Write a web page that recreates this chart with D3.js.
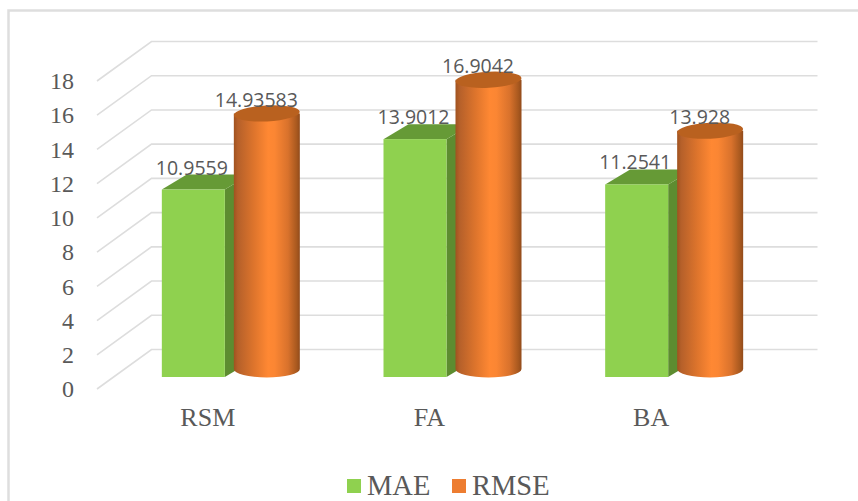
<!DOCTYPE html>
<html>
<head>
<meta charset="utf-8">
<script src="https://cdn.jsdelivr.net/npm/d3@7"></script>
<style>
  html, body { margin: 0; padding: 0; background: #fff; overflow: hidden; }
</style>
</head>
<body>
<div id="chart"></div>
<script>
var categories = ["RSM", "FA", "BA"];
var seriesNames = ["MAE", "RMSE"];
var maeValues = [10.9559, 13.9012, 11.2541];
var rmseValues = [14.93583, 16.9042, 13.928];
var maeLabels = ["10.9559", "13.9012", "11.2541"];
var rmseLabels = ["14.93583", "16.9042", "13.928"];
var yTicks = [0, 2, 4, 6, 8, 10, 12, 14, 16, 18];

var width = 858, height = 501;
var serif = "'Liberation Serif', serif";
var sans = "'Open Sans', sans-serif";
var textColor = "#595959";

// depth of the 3d box: how far the back wall sits from the front floor edge
var depthX = 54.5, depthY = 39.5;
var floorFront = 389, barFloor = 377, cylFloor = 369;
var barDx = 25, barDy = 15;
var barWidth = 63, cylRx = 33, cylRy = 8.5, capRy = 8;

var svg = d3.select("#chart")
    .append("svg")
        .attr("width", width)
        .attr("height", height);

var defs = svg.append("defs");
var cylGrad = defs.append("linearGradient").attr("id", "cylGrad");
[[0, "#a0521f"], [0.06, "#b5602a"], [0.3, "#dd742c"], [0.52, "#ff8833"], [0.62, "#fb8633"], [0.82, "#d9722c"], [0.95, "#a9591f"], [1, "#924b1b"]]
    .forEach(function(s) {
        cylGrad.append("stop").attr("offset", s[0]).attr("stop-color", s[1]);
    });

// chart area frame, runs off the page at the right and bottom
svg.append("path")
    .attr("d", "M8.5," + height + "V10.5H" + width)
    .attr("fill", "none")
    .attr("stroke", "#dedede")
    .attr("stroke-width", 2.5);

var y = d3.scaleLinear().domain([0, 18]).range([floorFront, floorFront - 308]);
var heightOf = function(v) { return floorFront - y(v); };
var x = d3.scaleBand().domain(categories).range([97, 97 + 665]);

// gridlines: side wall then back wall
var grid = svg.append("g")
    .attr("fill", "none")
    .attr("stroke", "#dddddd")
    .attr("stroke-width", 1.6);
grid.selectAll("path")
    .data(yTicks)
    .enter()
    .append("path")
    .attr("d", function(d) {
        var path = d3.path();
        path.moveTo(x.range()[0], y(d));
        path.lineTo(x.range()[0] + depthX, y(d) - depthY);
        path.lineTo(x.range()[1] + depthX + 1, y(d) - depthY);
        return path;
    });

var yAxis = svg.append("g")
    .attr("transform", "translate(74,0)")
    .call(d3.axisLeft(y).tickValues(yTicks).tickSize(0).tickPadding(0));
yAxis.select(".domain").remove();
yAxis.selectAll("text")
    .attr("font-family", serif)
    .attr("font-size", "24px")
    .attr("fill", textColor)
    .attr("text-anchor", "end")
    .attr("x", 0);

var groups = svg.selectAll("g.group")
    .data(categories)
    .enter()
    .append("g")
    .attr("class", "group")
    .attr("transform", function(d) {
        return "translate(" + (x(d) + x.bandwidth() / 2) + ",0)";
    });

// MAE box: side and top faces first, cylinder covers their back part
var maeX = -46;
var boxTop = function(i) { return barFloor - heightOf(maeValues[i]); };

groups.append("path")
    .attr("fill", "#5d8c30")
    .attr("d", function(d, i) {
        var r = maeX + barWidth;
        return "M" + r + "," + barFloor + "L" + (r + barDx) + "," + (barFloor - barDy) +
            "V" + (boxTop(i) - barDy) + "L" + r + "," + boxTop(i) + "Z";
    });
groups.append("path")
    .attr("fill", "#669a36")
    .attr("d", function(d, i) {
        var r = maeX + barWidth, t = boxTop(i);
        return "M" + maeX + "," + t + "L" + (maeX + barDx) + "," + (t - barDy) +
            "H" + (r + barDx) + "L" + r + "," + t + "Z";
    });
groups.append("rect")
    .attr("x", maeX)
    .attr("y", function(d, i) { return boxTop(i); })
    .attr("width", barWidth)
    .attr("height", function(d, i) { return heightOf(maeValues[i]); })
    .attr("fill", "#8fd14f");

// RMSE cylinder
var cylCx = 59;
var cylTop = function(i) { return cylFloor - heightOf(rmseValues[i]); };

groups.append("path")
    .attr("fill", "url(#cylGrad)")
    .attr("d", function(d, i) {
        return "M" + (cylCx - cylRx) + "," + cylTop(i) +
            "V" + cylFloor +
            "A" + cylRx + "," + cylRy + " 0 0 0 " + (cylCx + cylRx) + "," + cylFloor +
            "V" + cylTop(i) + "Z";
    });
groups.append("ellipse")
    .attr("cx", cylCx)
    .attr("cy", function(d, i) { return cylTop(i); })
    .attr("rx", cylRx)
    .attr("ry", capRy)
    .attr("fill", "#b9611f")
    .attr("transform", function(d, i) {
        return "rotate(-3 " + cylCx + " " + cylTop(i) + ")";
    });

// data labels
groups.append("text")
    .text(function(d, i) { return maeLabels[i]; })
    .attr("x", maeX + 30)
    .attr("y", function(d, i) { return boxTop(i) - 15; })
    .attr("text-anchor", "middle")
    .attr("font-family", sans)
    .attr("font-size", "19.5px")
    .attr("fill", textColor);
groups.append("text")
    .text(function(d, i) { return rmseLabels[i]; })
    .attr("x", cylCx - 10.5)
    .attr("y", function(d, i) { return cylTop(i) - 6.5; })
    .attr("text-anchor", "middle")
    .attr("font-family", sans)
    .attr("font-size", "19.5px")
    .attr("fill", textColor);

// category labels
svg.selectAll("text.category")
    .data(categories)
    .enter()
    .append("text")
    .attr("class", "category")
    .text(function(d) { return d; })
    .attr("x", function(d) { return x(d) + x.bandwidth() / 2; })
    .attr("y", 426)
    .attr("text-anchor", "middle")
    .attr("font-family", serif)
    .attr("font-size", "26px")
    .attr("fill", textColor);

// legend
var legendColors = d3.scaleOrdinal().domain(seriesNames).range(["#8fd14f", "#ed7d31"]);
var legendX = d3.scaleOrdinal().domain(seriesNames).range([347, 452]);
var legend = svg.selectAll("g.legend")
    .data(seriesNames)
    .enter()
    .append("g")
    .attr("class", "legend")
    .attr("transform", function(d) { return "translate(" + legendX(d) + ",479)"; });
legend.append("rect")
    .attr("width", 14)
    .attr("height", 14)
    .attr("fill", function(d) { return legendColors(d); });
legend.append("text")
    .text(function(d) { return d; })
    .attr("x", 20)
    .attr("y", 16)
    .attr("font-family", serif)
    .attr("font-size", "28.5px")
    .attr("fill", textColor);
</script>
</body>
</html>
